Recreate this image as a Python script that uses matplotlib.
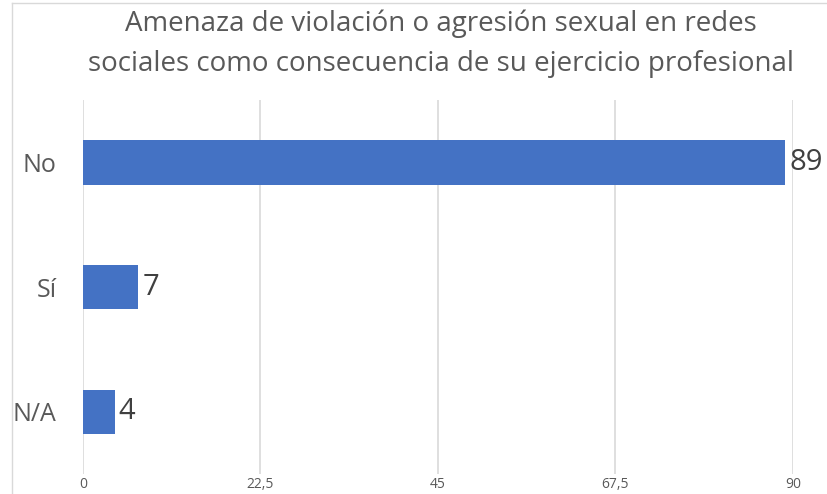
import matplotlib.pyplot as plt
from matplotlib.lines import Line2D

categories = ['No', 'Sí', 'N/A']
values = [89, 7, 4]
ticks = [0, 22.5, 45, 67.5, 90]
tick_labels = ['0', '22,5', '45', '67,5', '90']

plt.rcParams['font.family'] = ['Open Sans', 'DejaVu Sans']

fig = plt.figure(figsize=(8.28, 4.94), dpi=100)
ax = fig.add_axes([0.1002, 0.04, 0.8575, 0.757])

pos = list(range(len(categories)))
ax.barh(pos, values, height=0.355, color='#4472C4', zorder=3)
ax.set_ylim(2.5, -0.5)
ax.set_xlim(0, 90)

ax.set_yticks(pos)
ax.set_yticklabels(categories, fontsize=18, color='#595959')
ax.set_xticks(ticks)
ax.set_xticklabels(tick_labels, fontsize=10, color='#595959',
                   family=['Liberation Sans Narrow', 'Open Sans'])
ax.tick_params(length=0)
ax.tick_params(axis='y', pad=19)
ax.tick_params(axis='x', pad=2)

ax.grid(axis='x', color='#d9d9d9', linewidth=1.2, zorder=0)
for s in ax.spines.values():
    s.set_visible(False)

# value labels
for p, v in zip(pos, values):
    ax.text(v + 0.55, p, str(v), va='center', ha='left', fontsize=21, color='#404040')

fig.text(0.533, 0.98, 'Amenaza de violación o agresión sexual en redes\nsociales como consecuencia de su ejercicio profesional',
         ha='center', va='top', fontsize=20, color='#595959', linespacing=1.55)

# chart frame
fig.add_artist(Line2D([0.0145, 0.0145], [0, 0.994], transform=fig.transFigure, color='#d9d9d9', lw=1))
fig.add_artist(Line2D([0.0145, 1], [0.994, 0.994], transform=fig.transFigure, color='#d9d9d9', lw=1))

fig.savefig('out.png', dpi=100)
